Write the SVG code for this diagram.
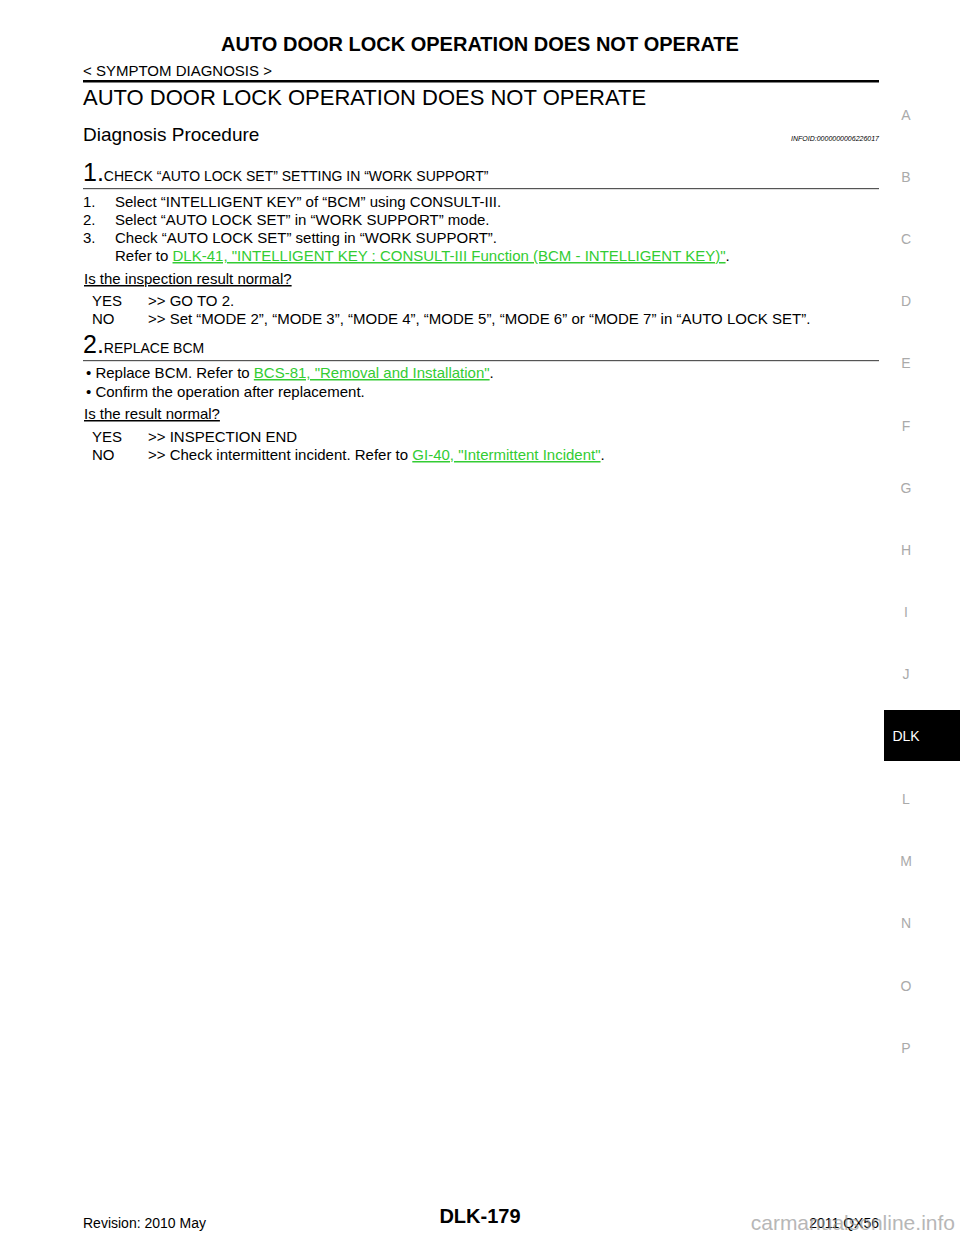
<svg xmlns="http://www.w3.org/2000/svg" width="960" height="1242" viewBox="0 0 960 1242">
<style>
text{font-family:"Liberation Sans",Arial,sans-serif;fill:#000}
.b{font-size:15px}
.side{font-size:14px;fill:#aaa}
.lk{fill:#33cc33;text-decoration:underline}
.u{text-decoration:underline}
</style>
<rect width="960" height="1242" fill="#fff"/>
<g id="header">
<text x="480" y="51" font-size="20" font-weight="bold" text-anchor="middle">AUTO DOOR LOCK OPERATION DOES NOT OPERATE</text>
<text x="83" y="76" font-size="15">&lt; SYMPTOM DIAGNOSIS &gt;</text>
<rect x="83" y="80" width="796" height="2.5"/>
<text x="83" y="105" font-size="22">AUTO DOOR LOCK OPERATION DOES NOT OPERATE</text>
<text x="83" y="141" font-size="19">Diagnosis Procedure</text>
<text x="879" y="141" font-size="7" font-style="italic" text-anchor="end">INFOID:0000000006226017</text>
</g>
<g id="step1">
<text x="83" y="181"><tspan font-size="25">1.</tspan><tspan font-size="14">CHECK “AUTO LOCK SET” SETTING IN “WORK SUPPORT”</tspan></text>
<rect x="83" y="188" width="796" height="1.2" fill="#555"/>
<text class="b" x="83" y="207">1.</text><text class="b" x="115" y="207">Select “INTELLIGENT KEY” of “BCM” using CONSULT-III.</text>
<text class="b" x="83" y="225">2.</text><text class="b" x="115" y="225">Select “AUTO LOCK SET” in “WORK SUPPORT” mode.</text>
<text class="b" x="83" y="243">3.</text><text class="b" x="115" y="243">Check “AUTO LOCK SET” setting in “WORK SUPPORT”.</text>
<text class="b" x="115" y="261">Refer to <tspan class="lk">DLK-41, "INTELLIGENT KEY : CONSULT-III Function (BCM - INTELLIGENT KEY)"</tspan>.</text>
<text class="b u" x="84" y="284">Is the inspection result normal?</text>
<text class="b" x="92" y="306">YES</text><text class="b" x="148" y="306">&gt;&gt; GO TO 2.</text>
<text class="b" x="92" y="324">NO</text><text class="b" x="148" y="324">&gt;&gt; Set “MODE 2”, “MODE 3”, “MODE 4”, “MODE 5”, “MODE 6” or “MODE 7” in “AUTO LOCK SET”.</text>
</g>
<g id="step2">
<text x="83" y="353"><tspan font-size="25">2.</tspan><tspan font-size="14">REPLACE BCM</tspan></text>
<rect x="83" y="360" width="796" height="1.2" fill="#555"/>
<text class="b" x="86" y="378">• Replace BCM. Refer to <tspan class="lk">BCS-81, "Removal and Installation"</tspan>.</text>
<text class="b" x="86" y="397">• Confirm the operation after replacement.</text>
<text class="b u" x="84" y="419">Is the result normal?</text>
<text class="b" x="92" y="442">YES</text><text class="b" x="148" y="442">&gt;&gt; INSPECTION END</text>
<text class="b" x="92" y="460">NO</text><text class="b" x="148" y="460">&gt;&gt; Check intermittent incident. Refer to <tspan class="lk">GI-40, "Intermittent Incident"</tspan>.</text>
</g>
<g id="sidebar">
<text class="side" x="906" y="120" text-anchor="middle">A</text>
<text class="side" x="906" y="182" text-anchor="middle">B</text>
<text class="side" x="906" y="244" text-anchor="middle">C</text>
<text class="side" x="906" y="306" text-anchor="middle">D</text>
<text class="side" x="906" y="368" text-anchor="middle">E</text>
<text class="side" x="906" y="431" text-anchor="middle">F</text>
<text class="side" x="906" y="493" text-anchor="middle">G</text>
<text class="side" x="906" y="555" text-anchor="middle">H</text>
<text class="side" x="906" y="617" text-anchor="middle">I</text>
<text class="side" x="906" y="679" text-anchor="middle">J</text>
<rect x="884" y="710" width="76" height="51" fill="#000"/>
<text x="906" y="741" font-size="14" text-anchor="middle" style="fill:#fff">DLK</text>
<text class="side" x="906" y="804" text-anchor="middle">L</text>
<text class="side" x="906" y="866" text-anchor="middle">M</text>
<text class="side" x="906" y="928" text-anchor="middle">N</text>
<text class="side" x="906" y="991" text-anchor="middle">O</text>
<text class="side" x="906" y="1053" text-anchor="middle">P</text>
</g>
<g id="footer">
<text x="83" y="1228" font-size="14">Revision: 2010 May</text>
<text x="480" y="1223" font-size="20" font-weight="bold" text-anchor="middle">DLK-179</text>
<text x="879" y="1228" font-size="14" text-anchor="end">2011 QX56</text>
<text x="955" y="1230" font-size="21" text-anchor="end" style="fill:#999;opacity:0.7">carmanualsonline.info</text>
</g>
</svg>
